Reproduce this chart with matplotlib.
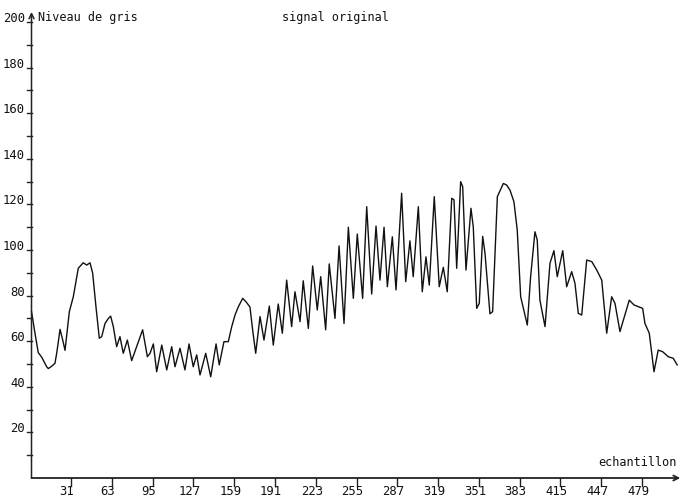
import matplotlib
matplotlib.use("Agg")
import matplotlib.pyplot as plt
from matplotlib import transforms

# ---- data ----
samples = [0, 2.7, 5.3, 8.0, 11.9, 13.2, 15.8, 18.4, 19.8, 22.4,
           24.5, 26.3, 29.7, 32.8, 36.7, 40.6, 43.3, 45.9, 48.0, 50.6,
           53.2, 55.1, 57.7, 60.3, 62.1, 64.2, 66.8, 69.4, 72.0, 75.2,
           78.6, 82.5, 87.2, 90.9, 93.0, 95.6, 98.2, 102.2, 106.1, 110.0,
           112.6, 116.5, 120.4, 123.6, 126.9, 129.6, 132.2, 136.7, 140.6, 144.8,
           147.3, 151.0, 154.4, 157.1, 159.7, 162.2, 165.7, 168.3, 171.4, 173.5,
           175.9, 179.3, 182.4, 186.6, 189.7, 193.6, 196.8, 200.2, 204.1, 206.7,
           210.7, 213.2, 217.2, 220.6, 224.2, 226.9, 230.8, 233.6, 238.1, 241.3,
           245.2, 248.6, 252.5, 255.6, 259.8, 263.0, 266.9, 270.3, 273.4, 276.6,
           279.2, 283.1, 286.0, 290.4, 293.6, 296.9, 299.5, 303.5, 306.6, 309.5,
           312.1, 316.0, 319.9, 323.1, 326.2, 329.7, 331.5, 333.6, 336.7, 338.3,
           340.9, 344.8, 346.6, 349.3, 351.3, 354.0, 355.8, 359.7, 361.8, 365.5,
           370.2, 372.8, 375.4, 378.5, 381.1, 383.8, 389.0, 391.6, 395.0, 396.8,
           398.9, 402.9, 406.8, 409.9, 412.5, 416.8, 419.9, 423.8, 426.4, 429.0,
           431.7, 435.6, 439.6, 443.5, 447.4, 451.3, 455.2, 457.8, 461.7, 469.0,
           472.7, 479.5, 481.3, 484.7, 488.4, 491.7, 495.2, 499.6, 503.5, 506.6]

gray_level = [73, 63.6, 55, 53, 48.8, 48, 49, 50.3, 54.8, 65.2,
              60.5, 56, 73, 79.5, 92, 94.4, 93.4, 94.4, 89.8, 75,
              61.3, 62, 67.8, 70, 71, 66.4, 57.6, 62, 54.7, 60.5,
              51.5, 57.6, 65, 53.2, 54.7, 58.8, 46.6, 58.3, 47.4, 57.6,
              48.8, 56.9, 47.4, 58.8, 48.8, 54, 45.2, 54.7, 44.4, 58.8,
              49.6, 59.8, 59.8, 66.4, 71.5, 75, 78.8, 77.3, 75, 65,
              54.7, 70.8, 60.5, 75.4, 58.3, 76.3, 63.5, 86.8, 66.4, 81.7,
              68.6, 86.5, 65.6, 93, 73.7, 88.3, 65, 93.9, 70, 101.8,
              67.8, 110, 78.8, 107, 78.8, 119, 80.7, 110.5, 86.8, 110,
              83.9, 105.8, 82.5, 124.9, 86.1, 104, 88.3, 119, 81.7, 97,
              84.6, 123.4, 83.9, 92.4, 81.7, 122.7, 122, 92, 130, 127.8,
              91.2, 118.3, 110.2, 74.4, 76.6, 106, 98.6, 72, 73, 123.4,
              129.2, 128.5, 126.3, 121.2, 108.8, 79.5, 67.1, 88.3, 108, 104.4,
              78, 66.4, 94.2, 99.7, 88.3, 99.7, 83.9, 90.5, 85.4, 72.2,
              71.5, 95.6, 94.9, 91.2, 86.8, 63.5, 79.5, 76.6, 64.2, 78,
              75.9, 74.4, 67.8, 63.5, 46.6, 56.1, 55.4, 53.2, 52.5, 49.6]

x_ticks = [31, 63, 95, 127, 159, 191, 223, 255, 287, 319, 351, 383, 415, 447, 479]
y_labeled = [20, 40, 60, 80, 100, 120, 140, 160, 180, 200]
y_minor = [10, 30, 50, 70, 90, 110, 130, 150, 170, 190]
title = "signal original"
ylabel = "Niveau de gris"
xlabel = "echantillon"

W, H = 680, 498
fig = plt.figure(figsize=(W / 100, H / 100), dpi=100)
ax = fig.add_axes([31.5 / W, 20 / H, 646.2 / W, 466 / H])
ax.set_xlim(0, 507)
ax.set_ylim(0, 204.4)
for s in ax.spines.values():
    s.set_visible(False)
ax.set_xticks([])
ax.set_yticks([])

TICKFONT = dict(family="DejaVu Sans Mono", size=8.8, color="#111111")
FONT = dict(family="DejaVu Sans Mono", size=8.5, color="#111111")
axc = "#222222"

ax.plot(samples, gray_level, color="#111111", lw=1.0, clip_on=False,
        solid_joinstyle="round")

# axes with arrows
ax.annotate("", xy=(0, 1), xytext=(0, 0), xycoords="axes fraction",
            arrowprops=dict(arrowstyle="->", lw=1.1, color=axc,
                            shrinkA=0, shrinkB=0, mutation_scale=9))
ax.annotate("", xy=(1.004, 0), xytext=(0, 0), xycoords="axes fraction",
            arrowprops=dict(arrowstyle="->", lw=1.3, color=axc,
                            shrinkA=0, shrinkB=0, mutation_scale=9))

# y ticks
yt = ax.get_yaxis_transform()
for v in y_labeled + y_minor:
    ax.plot([-0.0075, 0], [v, v], transform=yt, color=axc, lw=1, clip_on=False)
for v in y_labeled:
    ax.text(0, v, str(v), transform=transforms.offset_copy(yt, fig=fig, x=-6.5, y=0, units="dots"),
            ha="right", va="baseline", **TICKFONT)

# x ticks
xt = ax.get_xaxis_transform()
for t in x_ticks:
    ax.plot([t, t], [0, -0.018], transform=xt, color=axc, lw=1, clip_on=False)
    ax.text(t, 0, str(t), transform=transforms.offset_copy(xt, fig=fig, x=-4, y=-7, units="dots"),
            ha="center", va="top", **TICKFONT)

fig.text(38 / W, 1 - 17 / H, ylabel, ha="left", va="center", **FONT)
fig.text(335 / W, 1 - 17 / H, title, ha="center", va="center", **FONT)
fig.text(677 / W, 1 - 462 / H, xlabel, ha="right", va="center", **FONT)

fig.savefig("out.png", dpi=100)
